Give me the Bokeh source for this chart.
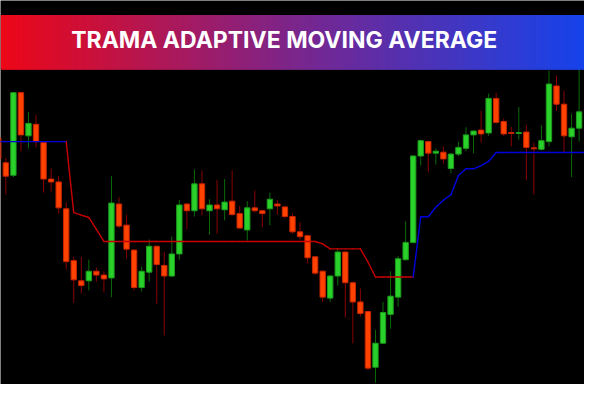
import numpy as np
from bokeh.plotting import figure
from bokeh.models import Range1d, ColumnDataSource
from bokeh.embed import file_html
from bokeh.resources import INLINE
from bokeh.core.properties import value

title_text = "TRAMA ADAPTIVE MOVING AVERAGE"

opens = [125.7, 123.1, 121.8, 130.4, 125.9, 127.1, 125.2, 121.4, 121.1, 118.3,
         112.9, 110.8, 110.8, 111.8, 111.4, 111.1, 118.8, 116.6, 114.0, 110.1,
         111.7, 114.4, 112.4, 111.3, 113.6, 118.8, 118.1, 120.9, 118.1, 118.7,
         118.2, 119.1, 117.8, 116.1, 118.4, 118.1, 118.3, 118.8, 118.5, 117.5,
         115.9, 115.5, 113.3, 111.8, 109.0, 111.3, 113.8, 110.6, 108.6, 107.6,
         101.8, 104.3, 107.3, 109.1, 113.0, 114.8, 123.8, 125.3, 124.1, 124.2,
         122.5, 124.0, 124.6, 126.0, 126.5, 126.2, 129.8, 127.4, 126.25, 126.15,
         126.3, 124.65, 124.5, 125.3, 131.1, 129.2, 125.8, 126.7]
highs = [125.8, 123.6, 130.4, 130.5, 128.4, 128.1, 125.4, 122.5, 121.7, 119.0,
         113.3, 113.3, 113.0, 112.2, 111.8, 121.7, 119.5, 117.7, 114.1, 112.3,
         115.1, 114.5, 113.8, 115.4, 119.2, 118.9, 122.4, 122.3, 119.3, 121.3,
         121.4, 122.3, 118.6, 119.1, 120.2, 118.2, 120.0, 119.2, 118.6, 117.8,
         116.9, 115.6, 113.4, 111.9, 111.4, 114.2, 113.9, 110.7, 110.0, 107.7,
         105.7, 108.6, 111.8, 113.4, 117.0, 123.9, 125.5, 125.4, 124.6, 124.8,
         124.1, 125.3, 126.8, 126.5, 128.5, 130.3, 130.4, 127.7, 126.8, 128.9,
         127.0, 125.2, 127.0, 132.7, 132.2, 130.6, 128.2, 133.0]
lows = [123.0, 119.8, 121.6, 124.3, 124.6, 124.7, 120.0, 120.1, 117.8, 112.0,
        108.5, 109.5, 109.8, 110.7, 109.6, 109.1, 116.3, 113.1, 109.8, 109.7,
        110.7, 108.4, 105.1, 111.2, 113.0, 116.2, 117.5, 117.6, 115.6, 115.7,
        117.1, 117.6, 116.2, 115.0, 117.9, 116.4, 116.6, 117.7, 117.3, 115.7,
        115.1, 112.6, 111.4, 108.6, 108.6, 110.3, 107.0, 104.3, 107.1, 101.5,
        100.2, 104.2, 105.8, 108.1, 112.9, 114.7, 122.8, 122.1, 122.9, 123.0,
        122.0, 123.8, 124.3, 124.1, 125.2, 125.9, 127.2, 125.9, 124.8, 125.5,
        121.3, 119.8, 124.4, 124.8, 128.5, 124.2, 121.6, 125.3]
closes = [123.5, 121.7, 130.4, 126.0, 127.2, 125.3, 121.4, 121.1, 118.4, 112.8,
          110.9, 110.3, 111.8, 111.4, 111.0, 118.9, 116.5, 114.1, 110.1, 111.8,
          114.4, 112.5, 111.3, 113.6, 118.7, 118.1, 120.9, 118.3, 118.7, 118.3,
          119.0, 117.7, 116.3, 118.4, 118.1, 117.8, 119.3, 118.6, 117.5, 115.9,
          115.4, 113.2, 111.6, 109.1, 111.3, 113.8, 110.6, 108.6, 107.4, 101.7,
          104.3, 107.5, 109.2, 113.1, 114.8, 123.8, 125.4, 124.1, 124.3, 123.5,
          124.0, 124.7, 126.0, 126.4, 126.1, 129.8, 127.3, 126.1, 126.15, 126.25,
          124.7, 124.55, 125.4, 131.3, 129.2, 125.9, 126.7, 128.4]

trama = [125.3] * 10 + [117.9, 117.65, 117.4, 116.15] + [114.9] * 29 + [114.65] + \
        [114.13] * 5 + [112.76] + [111.2] * 6 + [117.47, 117.47, 118.46, 119.2, 119.77,
        121.77, 122.47, 122.47, 122.81, 123.23] + [124.17] * 13
trend = ["up"] * 10 + ["down"] * 46 + ["up"] * 23

# ---------------------------------------------------------------
idx = list(range(len(opens)))
up = [c >= o for o, c in zip(opens, closes)]
body_fill = ["#2bd12b" if u else "#ff4200" for u in up]
body_line = ["#1c9c1c" if u else "#c82400" for u in up]
wick_col = ["#0a6a0a" if u else "#8a0000" for u in up]

src = ColumnDataSource(dict(
    x=idx, o=opens, h=highs, l=lows, c=closes,
    top=[max(o, c) for o, c in zip(opens, closes)],
    bot=[min(o, c) for o, c in zip(opens, closes)],
    fill=body_fill, line=body_line, wick=wick_col))

p = figure(width=584, height=384, x_range=Range1d(0.29, 77.71), y_range=Range1d(100, 140),
           output_backend="svg", toolbar_location=None,
           x_axis_location=None, y_axis_location=None, min_border=0,
           background_fill_color="black", border_fill_color="black",
           outline_line_color=None)
p.grid.visible = False
p.extra_x_ranges = {"ref": Range1d(0, 600)}
p.extra_y_ranges = {"ref": Range1d(400, 0)}

p.segment(x0="x", y0="l", x1="x", y1="h", line_color="wick", line_width=1, source=src)
p.vbar(x="x", width=0.71, top="top", bottom="bot", fill_color="fill",
       line_color="line", line_width=1, source=src)

tcol = {"up": "#0000dc", "down": "#c80000"}
n = len(trama)
p.segment(x0=list(range(n - 1)), y0=trama[:-1], x1=list(range(1, n)), y1=trama[1:],
          line_color=[tcol[t] for t in trend[1:]], line_width=1.4, line_cap="round")

# title banner with horizontal gradient
gx = np.arange(0, 600, 1.0)
stops_x = [0, 300, 600]
r = np.interp(gx, stops_x, [238, 124, 22])
g = np.interp(gx, stops_x, [8, 38, 68])
b = np.interp(gx, stops_x, [24, 140, 236])
cols = ["#%02x%02x%02x" % (int(a), int(bb), int(cc)) for a, bb, cc in zip(r, g, b)]
p.quad(left=gx, right=np.minimum(gx + 3, 600), top=15, bottom=72, fill_color=cols,
       line_color=None, x_range_name="ref", y_range_name="ref")
p.text(x=[291.5], y=[41], text=[title_text], text_font=value("Inter"),
       text_font_style="bold", text_font_size="23px", text_color="white",
       text_align="center", text_baseline="middle",
       x_range_name="ref", y_range_name="ref")

open("out.html", "w").write(file_html(p, INLINE))
